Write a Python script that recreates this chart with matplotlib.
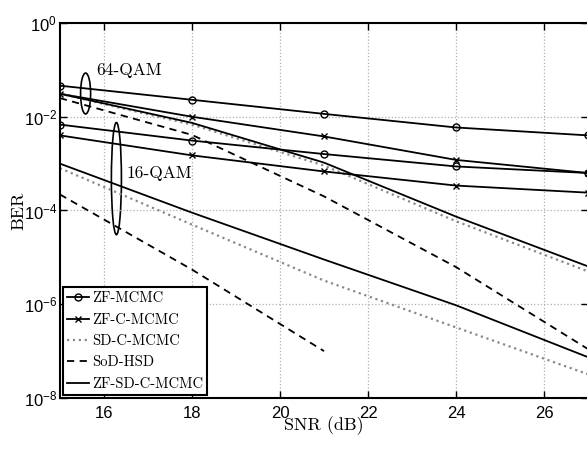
import numpy as np
import matplotlib
matplotlib.use("Agg")
import matplotlib.pyplot as plt
from matplotlib.patches import Ellipse
from matplotlib.ticker import LogLocator, NullLocator

# SNR points (dB)
snr = [15, 18, 21, 24, 27]
snr_sod16 = [15, 18, 21]

# 64-QAM curves
zf_mcmc_64 = [4.6e-2, 2.3e-2, 1.15e-2, 5.9e-3, 4.0e-3]
zf_c_mcmc_64 = [3.1e-2, 1.0e-2, 3.8e-3, 1.2e-3, 6.3e-4]
sd_c_mcmc_64 = [3.1e-2, 6.8e-3, 9.1e-4, 5.9e-5, 5.0e-6]
sod_hsd_64 = [2.5e-2, 4.1e-3, 2.0e-4, 6.2e-6, 1.1e-7]
zf_sd_c_mcmc_64 = [3.1e-2, 7.4e-3, 1.05e-3, 7.4e-5, 6.4e-6]

# 16-QAM curves
zf_mcmc_16 = [6.8e-3, 3.1e-3, 1.6e-3, 8.7e-4, 6.3e-4]
zf_c_mcmc_16 = [4.0e-3, 1.5e-3, 6.8e-4, 3.4e-4, 2.4e-4]
sd_c_mcmc_16 = [8.0e-4, 5.0e-5, 3.2e-6, 3.2e-7, 3.2e-8]
sod_hsd_16 = [2.2e-4, 5.5e-6, 1.0e-7]
zf_sd_c_mcmc_16 = [1.0e-3, 9.0e-5, 9.0e-6, 9.5e-7, 7.4e-8]

plt.rcParams['mathtext.default'] = 'regular'
serif = 'cmr10'

fig = plt.figure(figsize=(5.87, 4.49), dpi=100)
ax = fig.add_axes([0.102, 0.1136, 0.9, 0.8352])

lw = 1.3
grey = '#8a8a8a'

# 64-QAM
ax.plot(snr, zf_mcmc_64, 'k-', marker='o', mfc='none', ms=5, lw=lw, label='ZF-MCMC')
ax.plot(snr, zf_c_mcmc_64, 'k-', marker='x', ms=5, lw=lw, label='ZF-C-MCMC')
ax.plot(snr, sd_c_mcmc_64, color=grey, ls=':', lw=1.6, label='SD-C-MCMC')
ax.plot(snr, sod_hsd_64, 'k--', lw=lw, dashes=(4, 3), label='SoD-HSD')
ax.plot(snr, zf_sd_c_mcmc_64, 'k-', lw=lw, label='ZF-SD-C-MCMC')

# 16-QAM
ax.plot(snr, zf_mcmc_16, 'k-', marker='o', mfc='none', ms=5, lw=lw)
ax.plot(snr, zf_c_mcmc_16, 'k-', marker='x', ms=5, lw=lw)
ax.plot(snr, sd_c_mcmc_16, color=grey, ls=':', lw=1.6)
ax.plot(snr_sod16, sod_hsd_16, 'k--', lw=lw, dashes=(4, 3))
ax.plot(snr, zf_sd_c_mcmc_16, 'k-', lw=lw)

ax.set_yscale('log')
ax.set_xlim(15, 27)
ax.set_ylim(1e-8, 1)
ax.set_xticks([16, 18, 20, 22, 24, 26])
ax.yaxis.set_major_locator(LogLocator(base=100.0))
ax.yaxis.set_minor_locator(NullLocator())
ax.grid(True, color='#b0b0b0', ls=':', lw=0.9)
ax.tick_params(direction='in', top=True, right=True, length=5, width=1,
               labelsize=12, labelfontfamily='Liberation Sans')
ax.tick_params(axis='x', pad=6)
ax.tick_params(axis='y', pad=2)
for s in ax.spines.values():
    s.set_linewidth(1.5)

ax.set_xlabel('SNR (dB)', fontfamily=serif, fontsize=13, labelpad=-3.5)
ax.set_ylabel('BER', fontfamily=serif, fontsize=13, labelpad=-2)

# group ellipses
ax.add_patch(Ellipse((0.0487, 0.812), 0.019, 0.109, transform=ax.transAxes,
                     fill=False, ec='k', lw=1.2))
ax.add_patch(Ellipse((0.107, 0.585), 0.019, 0.299, transform=ax.transAxes,
                     fill=False, ec='k', lw=1.2))
ax.text(0.068, 0.875, '64-QAM', transform=ax.transAxes, fontfamily=serif,
        fontsize=12.5, va='center', ha='left')
ax.text(0.126, 0.6, '16-QAM', transform=ax.transAxes, fontfamily=serif,
        fontsize=12.5, va='center', ha='left')

leg = ax.legend(loc='lower left', prop={'family': serif, 'size': 10.5},
                fancybox=False, framealpha=1, edgecolor='k', borderaxespad=0.2,
                handlelength=1.5, handletextpad=0.2, labelspacing=0.52,
                borderpad=0.3)
leg.get_frame().set_linewidth(1.5)

fig.savefig('out.png', dpi=100)
